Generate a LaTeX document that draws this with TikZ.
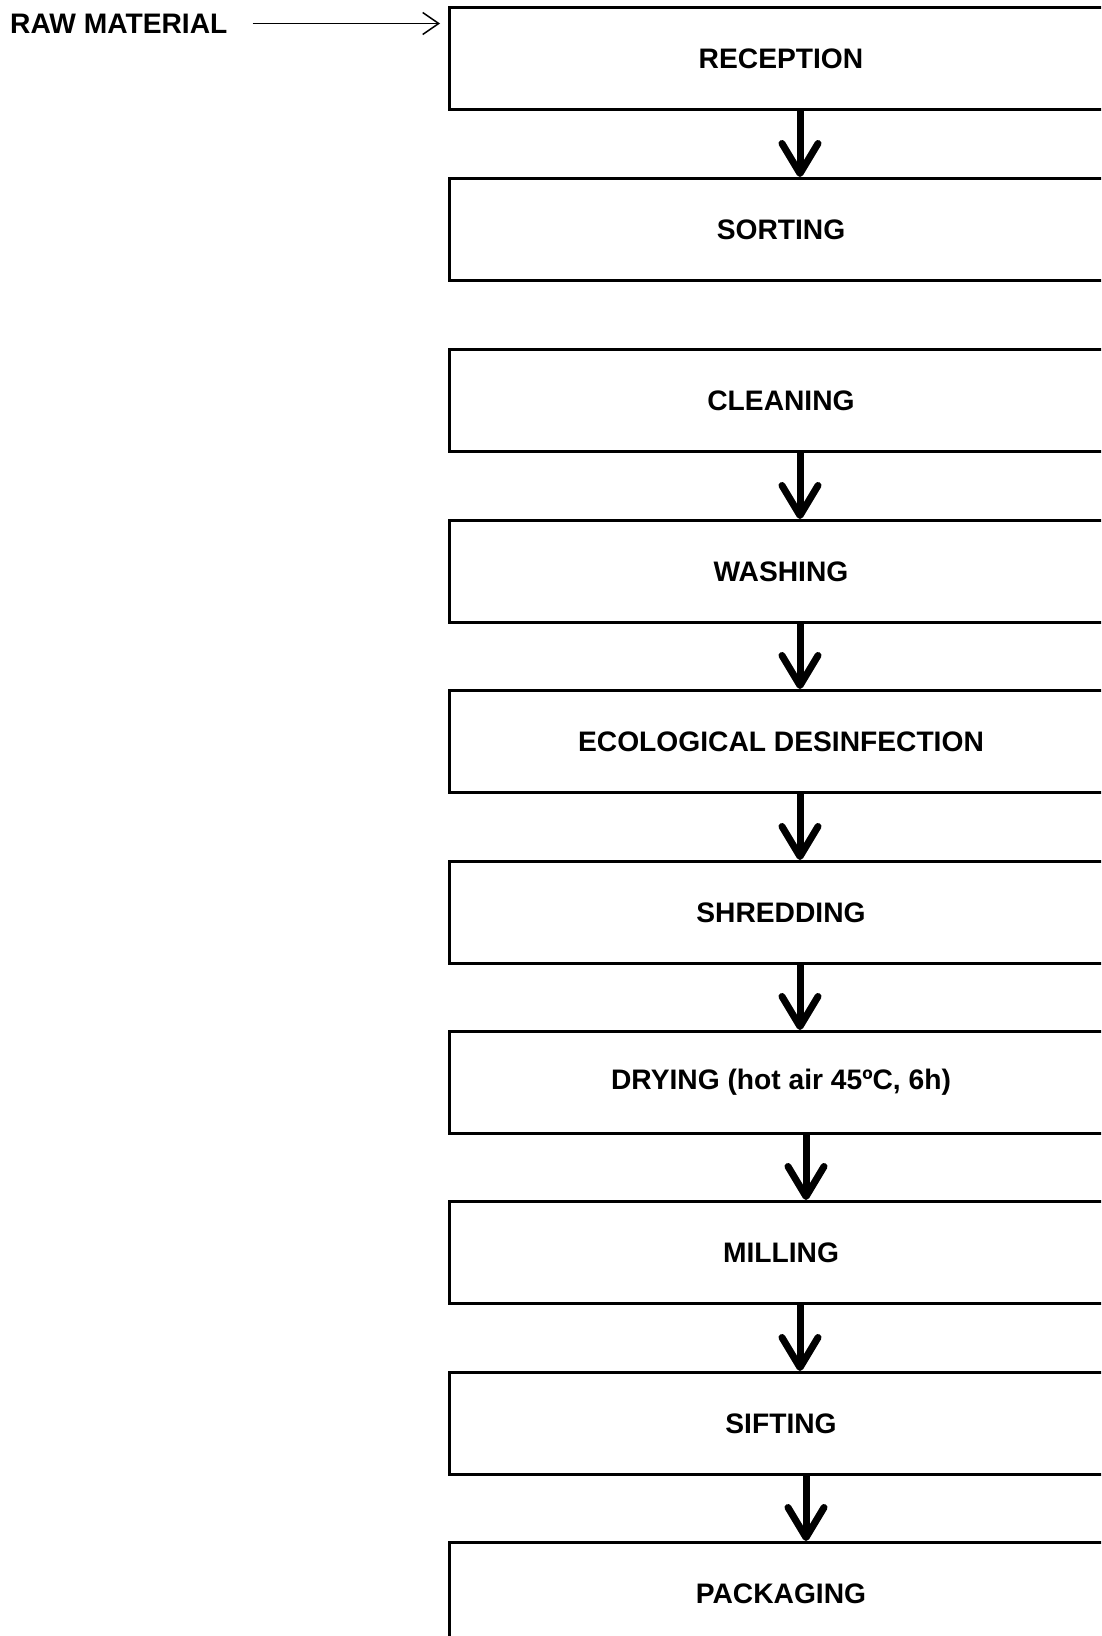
\documentclass[tikz,border=0pt]{standalone}
\usepackage{fontspec}
\setmainfont{Liberation Sans}
\usetikzlibrary{arrows.meta}
\tikzset{
  stepbox/.style={draw, line width=3pt, rectangle, anchor=north west,
    minimum width=663pt, minimum height=102pt, inner sep=0pt,
    font=\fontsize{28.2}{34}\selectfont\bfseries},
  flowarrow/.style={line width=7pt,
    -{Straight Barb[length=30pt,width=36pt,line width=7pt,round]}},
  thinarrow/.style={line width=1.5pt,
    -{Straight Barb[length=16pt,width=22pt,line width=1.5pt]}}
}
\begin{document}
\begin{tikzpicture}[x=1pt,y=-1pt]
\useasboundingbox (0,0) rectangle (1101,1636);
\clip (0,0) rectangle (1101,1636);
\fill[white] (0,0) rectangle (1101,1636);
\node[stepbox] (reception) at (448,6) {RECEPTION};
\node[stepbox] (sorting) at (448,177) {SORTING};
\node[stepbox] (cleaning) at (448,348) {CLEANING};
\node[stepbox] (washing) at (448,519) {WASHING};
\node[stepbox] (ecological) at (448,689) {ECOLOGICAL DESINFECTION};
\node[stepbox] (shredding) at (448,860) {SHREDDING};
\node[stepbox] (drying) at (448,1030) {DRYING (hot air 45ºC, 6h)};
\node[stepbox] (milling) at (448,1200) {MILLING};
\node[stepbox] (sifting) at (448,1371) {SIFTING};
\node[stepbox] (packaging) at (448,1541) {PACKAGING};
\node[anchor=west, inner sep=0pt, font=\fontsize{28.2}{34}\selectfont\bfseries] (raw) at (10,24) {RAW MATERIAL};
\coordinate (rawend) at (440,23.5);
\draw[thinarrow] ([xshift=25pt]raw.east |- rawend) -- (rawend);
\draw[flowarrow] (reception.south -| 800,0) -- (sorting.north -| 800,0);
\draw[flowarrow] (cleaning.south -| 800,0) -- (washing.north -| 800,0);
\draw[flowarrow] (washing.south -| 800,0) -- (ecological.north -| 800,0);
\draw[flowarrow] (ecological.south -| 800,0) -- (shredding.north -| 800,0);
\draw[flowarrow] (shredding.south -| 800,0) -- (drying.north -| 800,0);
\draw[flowarrow] (drying.south -| 806,0) -- (milling.north -| 806,0);
\draw[flowarrow] (milling.south -| 800,0) -- (sifting.north -| 800,0);
\draw[flowarrow] (sifting.south -| 806,0) -- (packaging.north -| 806,0);
\end{tikzpicture}
\end{document}
